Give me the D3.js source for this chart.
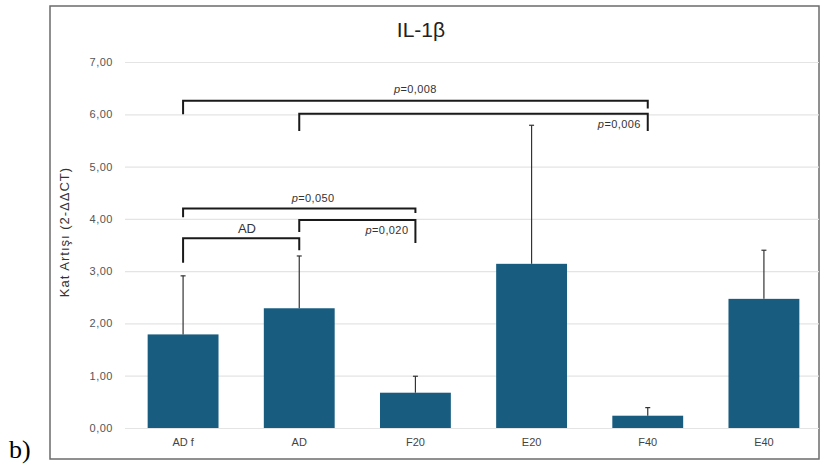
<!DOCTYPE html>
<html><head><meta charset="utf-8">
<script src="https://cdn.jsdelivr.net/npm/d3@7"></script>
<style>html,body{margin:0;padding:0;background:#fff;}svg{display:block;}</style>
</head><body>
<svg id="chart" width="820" height="472"></svg>
<script>
const categories = ["AD f", "AD", "F20", "E20", "F40", "E40"];
const means = [1.79, 2.29, 0.675, 3.14, 0.235, 2.47];
const errorTops = [2.91, 3.29, 0.99, 5.79, 0.39, 3.40];
const yTicks = [0, 1, 2, 3, 4, 5, 6, 7];
// significance brackets: from, to, bar height, left leg end, right leg end, label
const bracketFrom = ["AD f", "AD", "AD f", "AD", "AD f"];
const bracketTo = ["F40", "F40", "F20", "F20", "AD"];
const bracketY = [6.26, 6.01, 4.20, 3.98, 3.63];
const bracketLeftEnd = [6.00, 5.68, 4.03, 3.75, 3.16];
const bracketRightEnd = [6.11, 5.68, 4.11, 3.54, 3.40];
const bracketLabels = ["p=0,008", "p=0,006", "p=0,050", "p=0,020", "AD"];

const FONT = "'Liberation Sans', Arial, 'Noto Sans', sans-serif";
const svg = d3.select("#chart");
const fmt = d => d.toFixed(2).replace(".", ",");

const x = d3.scaleBand().domain(categories).range([125, 822]).paddingInner(0.39).paddingOuter(0.195);
const y = d3.scaleLinear().domain([0, 7]).range([428, 62]);
const cx = c => x(c) + x.bandwidth() / 2;

// frame
svg.append("rect").attr("x", 50).attr("y", 6).attr("width", 769).attr("height", 453)
  .attr("fill", "none").attr("stroke", "#6b6b6b").attr("stroke-width", 1.5);

// grid
const yAxis = d3.axisLeft(y).tickValues(yTicks).tickFormat(fmt).tickSize(-(819 - 125)).tickPadding(12);
const ga = svg.append("g").attr("transform", "translate(125,0)").call(yAxis);
ga.select(".domain").remove();
ga.selectAll(".tick line").attr("stroke", "#e4e4e4").attr("stroke-width", 1.2);
ga.selectAll(".tick text").attr("font-family", FONT).attr("font-size", 11)
  .attr("letter-spacing", 0.5).attr("fill", "#555");

// x axis labels
const xAxis = d3.axisBottom(x).tickSize(0).tickPadding(10);
const gx = svg.append("g").attr("transform", "translate(0,428)").call(xAxis);
gx.select(".domain").remove();
gx.selectAll(".tick text").attr("font-family", FONT).attr("font-size", 11).attr("fill", "#444");

// bars
svg.append("g").selectAll("rect").data(categories).join("rect")
  .attr("x", d => x(d)).attr("width", x.bandwidth())
  .attr("y", (d, i) => y(means[i])).attr("height", (d, i) => y(0) - y(means[i]))
  .attr("fill", "#185d80");

// error bars
const eb = svg.append("g").attr("stroke", "#333").attr("stroke-width", 1.2);
categories.forEach((c, i) => {
  eb.append("line").attr("x1", cx(c)).attr("x2", cx(c)).attr("y1", y(means[i])).attr("y2", y(errorTops[i]));
  eb.append("line").attr("x1", cx(c) - 2.5).attr("x2", cx(c) + 2.5).attr("y1", y(errorTops[i])).attr("y2", y(errorTops[i]));
});

// brackets
const bg = svg.append("g");
const labelStyle = [
  {anchor: "middle", dx: 0.5, dy: -8, size: 11},
  {anchor: "end", dx: 1, dy: 14, size: 11},
  {anchor: "middle", dx: 0.56, dy: -6, size: 11},
  {anchor: "end", dx: 1, dy: 14, size: 11},
  {anchor: "middle", dx: 0.55, dy: -5, size: 13}
];
bracketLabels.forEach((lab, i) => {
  const x1 = cx(bracketFrom[i]), x2 = cx(bracketTo[i]);
  const yy = y(bracketY[i]);
  bg.append("path")
    .attr("d", `M${x1},${y(bracketLeftEnd[i])}V${yy}H${x2}V${y(bracketRightEnd[i])}`)
    .attr("fill", "none").attr("stroke", "#1a1a1a").attr("stroke-width", 2);
  const st = labelStyle[i];
  const lx = st.anchor === "end" ? x2 - 7 : x1 + (x2 - x1) * st.dx;
  const t = bg.append("text").attr("x", lx).attr("y", yy + st.dy)
    .attr("text-anchor", st.anchor).attr("letter-spacing", st.size === 11 ? 0.4 : 0)
    .attr("font-family", FONT).attr("font-size", st.size).attr("fill", "#333");
  if (lab.startsWith("p=")) {
    t.append("tspan").attr("font-style", "italic").text("p");
    t.append("tspan").text(lab.slice(1));
  } else {
    t.text(lab);
  }
});

// title
svg.append("text").attr("x", 421).attr("y", 37).attr("text-anchor", "middle")
  .attr("font-family", FONT).attr("font-size", 21).attr("fill", "#222")
  .text("IL-1β");

// y axis title
svg.append("text").attr("transform", "translate(69,232) rotate(-90)").attr("text-anchor", "middle")
  .attr("font-family", FONT).attr("font-size", 13).attr("letter-spacing", 1).attr("fill", "#333")
  .text("Kat Artışı (2-ΔΔCT)");

// panel label
svg.append("text").attr("x", 9).attr("y", 458)
  .attr("font-family", "'Liberation Serif', 'DejaVu Serif', serif").attr("font-size", 26).attr("fill", "#000")
  .text("b)");
</script>
</body></html>
